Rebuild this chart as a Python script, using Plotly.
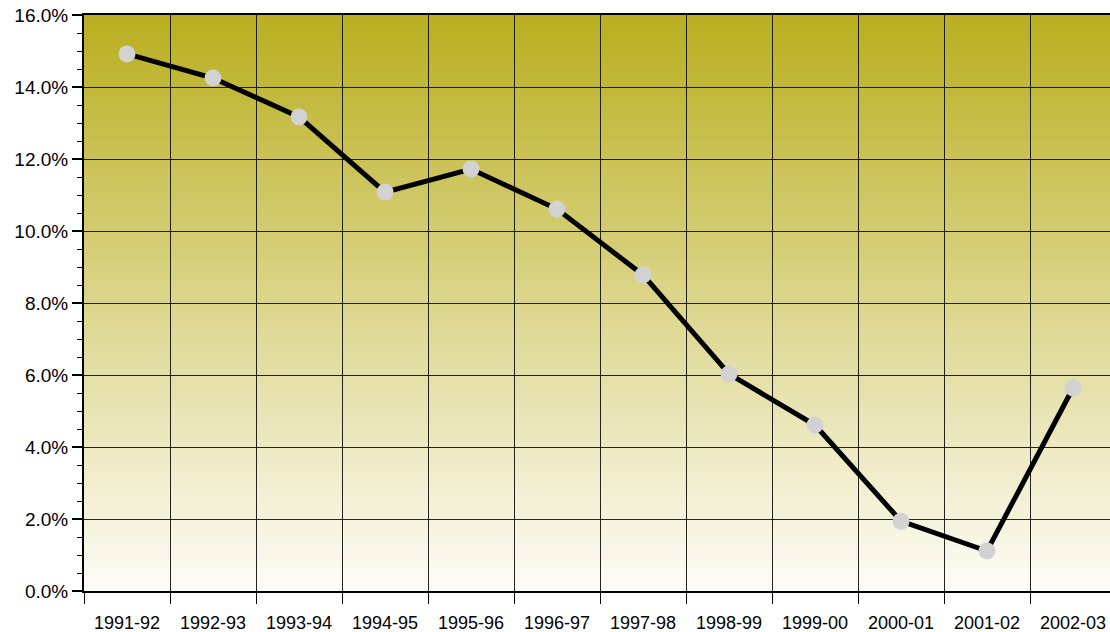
import plotly.graph_objects as go

years = ["1991-92", "1992-93", "1993-94", "1994-95", "1995-96", "1996-97",
         "1997-98", "1998-99", "1999-00", "2000-01", "2001-02", "2002-03"]
values = [14.92, 14.25, 13.17, 11.08, 11.72, 10.61, 8.78, 6.03, 4.61, 1.94, 1.11, 5.64]
y_ticks = [0, 2, 4, 6, 8, 10, 12, 14, 16]
y_tick_labels = [f"{v:.1f}%" for v in y_ticks]

fig = go.Figure()
fig.add_trace(go.Scatter(
    x=years, y=values, mode="lines+markers",
    line=dict(color="black", width=5),
    marker=dict(color="#d2d2d2", size=17, line=dict(width=0)),
    showlegend=False, hoverinfo="skip",
))

# vertical gradient background
top = (185, 175, 32)
bot = (254, 252, 247)
n = 120
shapes = []
for i in range(n):
    t = i / (n - 1)
    c = tuple(round(bot[k] + (top[k] - bot[k]) * t) for k in range(3))
    shapes.append(dict(type="rect", xref="x domain", yref="y domain",
                       x0=0, x1=1, y0=i / n, y1=(i + 1) / n + 0.002,
                       fillcolor=f"rgb{c}", line=dict(width=0), layer="below"))

fig.update_layout(
    width=1116, height=632,
    margin=dict(l=84, r=0, t=15, b=41, autoexpand=False),
    paper_bgcolor="white", plot_bgcolor="white",
    shapes=shapes,
    font=dict(family="Liberation Sans, Arial, sans-serif", color="black"),
)
fig.update_xaxes(
    type="category", range=[-0.5, 11.5], tickson="boundaries",
    showgrid=True, gridcolor="rgba(0,0,0,0.85)", gridwidth=1,
    showline=True, linecolor="black", linewidth=2, mirror=True,
    ticks="outside", ticklen=11, tickcolor="black", tickwidth=1,
    tickfont=dict(size=18), ticklabelstandoff=14,
    zeroline=False, fixedrange=True, automargin=False,
)
fig.update_yaxes(
    range=[0, 16], tickvals=y_ticks, ticktext=y_tick_labels,
    showgrid=True, gridcolor="rgba(0,0,0,0.85)", gridwidth=1,
    showline=True, linecolor="black", linewidth=2,
    ticks="outside", ticklen=10, tickcolor="black", tickwidth=2,
    tickfont=dict(size=19), ticklabelstandoff=0,
    minor=dict(dtick=0.5, ticks="outside", ticklen=5, tickcolor="black", tickwidth=1, showgrid=False),
    zeroline=False, fixedrange=True, automargin=False,
)

fig.write_html("out.html", config={"displayModeBar": False},
               post_script="document.body.style.margin='0';document.body.style.overflow='hidden';")
